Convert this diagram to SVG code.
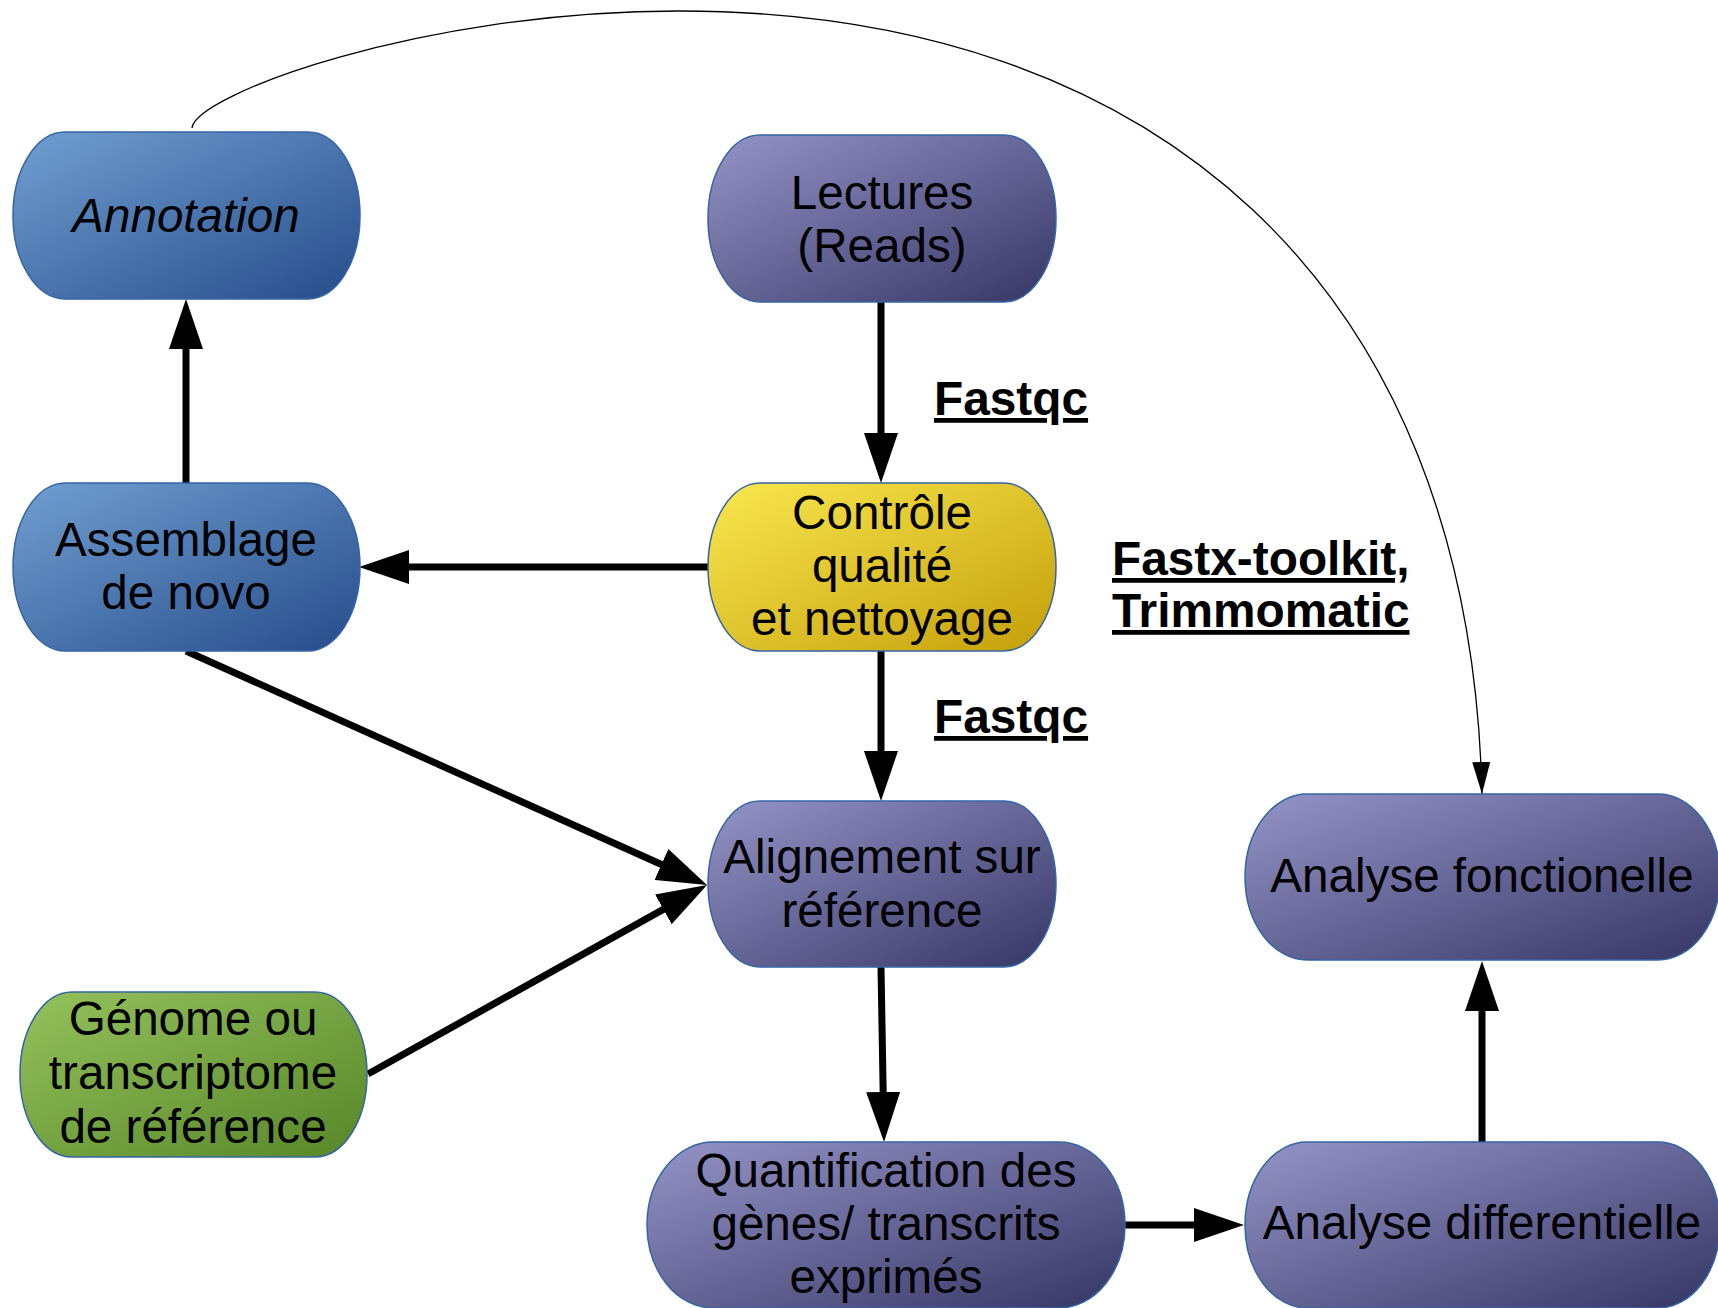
<svg xmlns="http://www.w3.org/2000/svg" width="1718" height="1308" viewBox="0 0 1718 1308">
<defs>
<linearGradient id="gBlue" x1="0" y1="0" x2="1" y2="1"><stop offset="0" stop-color="#719fd2"/><stop offset="1" stop-color="#264c8a"/></linearGradient>
<linearGradient id="gPurple" x1="0" y1="0" x2="1" y2="1"><stop offset="0" stop-color="#9494c8"/><stop offset="1" stop-color="#363665"/></linearGradient>
<linearGradient id="gYellow" x1="0" y1="0" x2="1" y2="1"><stop offset="0" stop-color="#fae84e"/><stop offset="1" stop-color="#c49f0a"/></linearGradient>
<linearGradient id="gGreen" x1="0" y1="0" x2="1" y2="1"><stop offset="0" stop-color="#95c25c"/><stop offset="1" stop-color="#578628"/></linearGradient>
<marker id="ah" viewBox="0 0 50 34" refX="2" refY="17" markerWidth="50" markerHeight="34" markerUnits="userSpaceOnUse" orient="auto"><path d="M0,0 L50,17 L0,34 z" fill="#000"/></marker>
<marker id="ahs" viewBox="0 0 32 18" refX="32" refY="9" markerWidth="32" markerHeight="18" markerUnits="userSpaceOnUse" orient="auto"><path d="M0,0 L32,9 L0,18 z" fill="#000"/></marker>
</defs>
<style>
.node{stroke:#3465a4;stroke-width:1.5}
.t{font-family:"Liberation Sans",Arial,sans-serif;font-size:47.6px;fill:#000;text-anchor:middle}
.lbl{font-family:"Liberation Sans",Arial,sans-serif;font-size:47.8px;font-weight:bold;fill:#000;text-decoration:underline}
.e{stroke:#000;stroke-width:7;fill:none;marker-end:url(#ah)}
</style>
<rect width="1718" height="1308" fill="#fff"/>
<g id="connectors">
<path class="e" d="M881,302 L881,435"/>
<path class="e" d="M708,567 L407,567"/>
<path class="e" d="M186,483 L186,347"/>
<path class="e" d="M881,651 L881,753"/>
<path class="e" d="M186,651 L663.2,865.3"/>
<path class="e" d="M368,1074 L665.1,908.4"/>
<path class="e" d="M881,967 L883.2,1094"/>
<path class="e" d="M1123,1225 L1196,1225"/>
<path class="e" d="M1482,1142 L1482,1009"/>
<path d="M192,128 C195,95 420,11 679,11 C1150,11 1470,280 1482,794" fill="none" stroke="#000" stroke-width="1.3" marker-end="url(#ahs)"/>
</g>
<g id="annotation">
<rect class="node" x="13" y="132" width="347" height="167" rx="52" ry="83" fill="url(#gBlue)"/>
<text class="t" x="186" y="232" font-style="italic">Annotation</text>
</g>
<g id="lectures">
<rect class="node" x="708" y="135" width="348" height="167" rx="52" ry="83" fill="url(#gPurple)"/>
<text class="t" x="882" y="209">Lectures</text>
<text class="t" x="882" y="262">(Reads)</text>
</g>
<g id="controle">
<rect class="node" x="708" y="483" width="348" height="168" rx="52" ry="84" fill="url(#gYellow)"/>
<text class="t" x="882" y="529">Contrôle</text>
<text class="t" x="882" y="582">qualité</text>
<text class="t" x="882" y="635">et nettoyage</text>
</g>
<g id="assemblage">
<rect class="node" x="13" y="483" width="347" height="168" rx="52" ry="84" fill="url(#gBlue)"/>
<text class="t" x="186" y="556">Assemblage</text>
<text class="t" x="186" y="609">de novo</text>
</g>
<g id="alignement">
<rect class="node" x="708" y="801" width="348" height="166" rx="52" ry="83" fill="url(#gPurple)"/>
<text class="t" x="882" y="873">Alignement sur</text>
<text class="t" x="882" y="927">référence</text>
</g>
<g id="genome">
<rect class="node" x="20" y="992" width="347" height="165" rx="52" ry="82" fill="url(#gGreen)"/>
<text class="t" x="193" y="1035">Génome ou</text>
<text class="t" x="193" y="1089">transcriptome</text>
<text class="t" x="193" y="1143">de référence</text>
</g>
<g id="quantification">
<rect class="node" x="647" y="1142" width="478" height="166" rx="66" ry="83" fill="url(#gPurple)"/>
<text class="t" x="886" y="1187">Quantification des</text>
<text class="t" x="886" y="1240">gènes/ transcrits</text>
<text class="t" x="886" y="1293">exprimés</text>
</g>
<g id="analyse-differentielle">
<rect class="node" x="1245" y="1142" width="475" height="166" rx="62" ry="83" fill="url(#gPurple)"/>
<text class="t" x="1482" y="1239">Analyse differentielle</text>
</g>
<g id="analyse-fonctionelle">
<rect class="node" x="1245" y="794" width="475" height="166" rx="62" ry="83" fill="url(#gPurple)"/>
<text class="t" x="1482" y="892">Analyse fonctionelle</text>
</g>
<g id="labels">
<text class="lbl" x="934" y="415">Fastqc</text>
<text class="lbl" x="934" y="733">Fastqc</text>
<text class="lbl" x="1112" y="575">Fastx-toolkit,</text>
<text class="lbl" x="1112" y="627">Trimmomatic</text>
</g>
</svg>
